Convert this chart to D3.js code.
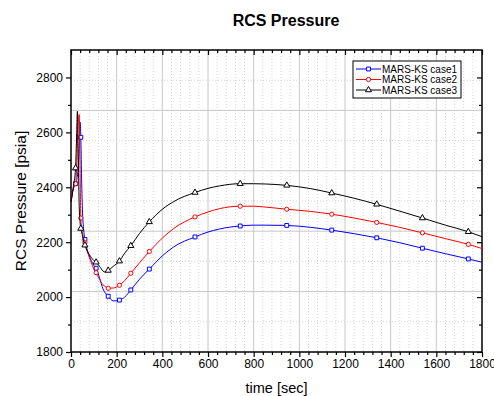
<!DOCTYPE html>
<html>
<head>
<meta charset="utf-8">
<script src="https://cdn.jsdelivr.net/npm/d3@7"></script>
<style>
  body { margin: 0; background: #fff; }
  svg { display: block; font-family: "Liberation Sans", Arial, sans-serif; }
</style>
</head>
<body>
<figure id="chart" style="margin:0"></figure>
<script>
// time [sec]
const time = [0, 10, 20, 25, 28, 32, 36, 40, 43, 46, 50, 55, 61, 70, 80, 90, 100, 110, 125, 140,
  150, 163, 185, 212, 235, 262, 300, 343, 400, 450, 543, 600, 650, 741, 800, 850, 945, 1050,
  1142, 1240, 1339, 1440, 1539, 1640, 1740, 1800];

// RCS pressure [psia]
const case1 = [2346, 2395, 2413, 2425, 2440, 2480, 2540, 2637, 2582, 2450, 2320, 2250, 2210, 2175,
  2150, 2130, 2115, 2105, 2070, 2030, 2015, 2003, 1986, 1989, 2000, 2026, 2065, 2102, 2150, 2183,
  2219, 2237, 2248, 2259, 2262, 2262, 2261, 2254, 2244, 2231, 2216, 2198, 2178, 2158, 2139, 2127];
const case2 = [2346, 2395, 2413, 2480, 2560, 2640, 2665, 2450, 2288, 2260, 2235, 2215, 2198, 2170,
  2145, 2122, 2102, 2089, 2065, 2045, 2038, 2032, 2033, 2043, 2060, 2087, 2125, 2166, 2215, 2250,
  2292, 2310, 2322, 2331, 2331, 2328, 2320, 2312, 2302, 2288, 2272, 2254, 2234, 2213, 2192, 2177];
const case3 = [2346, 2400, 2470, 2600, 2677, 2500, 2330, 2270, 2250, 2238, 2225, 2205, 2189, 2170,
  2155, 2143, 2133, 2127, 2112, 2095, 2091, 2097, 2112, 2131, 2160, 2187, 2232, 2274, 2320, 2348,
  2381, 2396, 2405, 2413, 2413, 2412, 2407, 2395, 2379, 2360, 2338, 2313, 2288, 2262, 2238, 2220];

// times that carry a symbol
const markerTimes = [20, 43, 61, 110, 163, 212, 262, 343, 543, 741, 945, 1142, 1339, 1539, 1740];

const seriesNames = ["MARS-KS case1", "MARS-KS case2", "MARS-KS case3"];
const xTicks = [0, 200, 400, 600, 800, 1000, 1200, 1400, 1600, 1800];
const yTicks = [1800, 2000, 2200, 2400, 2600, 2800];

const width = 494, height = 396;
const margin = { top: 50, right: 12, bottom: 44, left: 71 };
const w = width - margin.left - margin.right;
const h = height - margin.top - margin.bottom;

const svg = d3.select("#chart")
  .append("svg")
  .attr("width", width)
  .attr("height", height);

const g = svg.append("g")
  .attr("transform", "translate(" + margin.left + "," + margin.top + ")");

const x = d3.scaleLinear().domain([0, 1800]).range([0, w]);
const y = d3.scaleLinear().domain([1800, 2900]).range([h, 0]);

// Grid: vertical lines on the x ticks, horizontal lines every 110 psia
const gridV = d3.range(0, 1801, 40);
g.append("g").selectAll("line")
  .data(gridV.filter(d => d > 0 && d < 1800))
  .enter().append("line")
  .attr("x1", d => x(d)).attr("x2", d => x(d))
  .attr("y1", 0).attr("y2", h)
  .attr("stroke", d => d % 200 === 0 ? "#c8c8c8" : "#d4d4d4")
  .attr("stroke-width", 1)
  .attr("stroke-dasharray", d => d % 200 === 0 ? null : "1,2");

const gridH = d3.range(1910, 2900, 110);
g.append("g").selectAll("line")
  .data(gridH)
  .enter().append("line")
  .attr("x1", 0).attr("x2", w)
  .attr("y1", d => y(d)).attr("y2", d => y(d))
  .attr("stroke", (d, i) => i % 2 ? "#c8c8c8" : "#d4d4d4")
  .attr("stroke-width", 1)
  .attr("stroke-dasharray", (d, i) => i % 2 ? null : "1,2");

// Axes (left/bottom with labels, top/right mirrored)
const minorX = d3.range(0, 1801, 40).filter(d => d % 200 !== 0);
const minorY = d3.range(1900, 2900, 200);
const fmt = d3.format("d");

function styleAxis(sel) {
  sel.select(".domain").remove();
  sel.selectAll("line").attr("stroke", "#000").attr("stroke-width", 1.2);
  sel.selectAll("text").attr("font-size", 12).attr("fill", "#000")
    .attr("font-family", "Liberation Sans, Arial, sans-serif");
}

g.append("g").attr("transform", "translate(0," + h + ")")
  .call(d3.axisBottom(x).tickValues(xTicks).tickFormat(fmt).tickSize(5).tickPadding(2)).call(styleAxis);
g.append("g").attr("transform", "translate(0," + h + ")")
  .call(d3.axisBottom(x).tickValues(minorX).tickSize(3).tickFormat("")).call(styleAxis);
g.append("g").call(d3.axisTop(x).tickValues(xTicks).tickSize(-5).tickFormat("")).call(styleAxis);
g.append("g").call(d3.axisTop(x).tickValues(minorX).tickSize(-3).tickFormat("")).call(styleAxis);

g.append("g").call(d3.axisLeft(y).tickValues(yTicks).tickFormat(fmt).tickSize(5).tickPadding(3)).call(styleAxis);
g.append("g").call(d3.axisLeft(y).tickValues(minorY).tickSize(3).tickFormat("")).call(styleAxis);
g.append("g").attr("transform", "translate(" + w + ",0)")
  .call(d3.axisRight(y).tickValues(yTicks).tickSize(-5).tickFormat("")).call(styleAxis);
g.append("g").attr("transform", "translate(" + w + ",0)")
  .call(d3.axisRight(y).tickValues(minorY).tickSize(-3).tickFormat("")).call(styleAxis);

// Frame
g.append("rect")
  .attr("width", w).attr("height", h)
  .attr("fill", "none").attr("stroke", "#000").attr("stroke-width", 1.5);

// Lines and symbols
const series = [
  { name: seriesNames[0], values: case1, color: "#0000ff", symbol: d3.symbolSquare, size: 15 },
  { name: seriesNames[1], values: case2, color: "#ff0000", symbol: d3.symbolCircle, size: 14 },
  { name: seriesNames[2], values: case3, color: "#000000", symbol: d3.symbolTriangle, size: 16 },
];

const line = d3.line()
  .x(d => x(d[0]))
  .y(d => y(d[1]))
  .curve(d3.curveMonotoneX);

const plot = g.append("g");
series.forEach(s => {
  const pts = time.map((t, i) => [t, s.values[i]]);
  plot.append("path")
    .datum(pts)
    .attr("d", line)
    .attr("fill", "none")
    .attr("stroke", s.color)
    .attr("stroke-width", 1);
  plot.selectAll(null)
    .data(pts.filter(p => markerTimes.includes(p[0])))
    .enter().append("path")
    .attr("transform", p => "translate(" + x(p[0]) + "," + y(p[1]) + ")")
    .attr("d", d3.symbol().type(s.symbol).size(s.size))
    .attr("fill", "#fff")
    .attr("stroke", s.color)
    .attr("stroke-width", 1);
});

// Legend
const legend = g.append("g").attr("transform", "translate(282,11)");
legend.append("rect")
  .attr("width", 108).attr("height", 37)
  .attr("fill", "#fff").attr("stroke", "#000").attr("stroke-width", 1);
series.forEach((s, i) => {
  const row = legend.append("g").attr("transform", "translate(0," + (8 + i * 10.5) + ")");
  row.append("line").attr("x1", 3).attr("x2", 28)
    .attr("stroke", s.color).attr("stroke-width", 1);
  row.append("path").attr("transform", "translate(15.5,0)")
    .attr("d", d3.symbol().type(s.symbol).size(s.size))
    .attr("fill", "#fff").attr("stroke", s.color).attr("stroke-width", 1);
  row.append("text").attr("x", 29).attr("dy", "0.35em")
    .attr("font-size", 10).text(s.name);
});

// Titles
svg.append("text")
  .attr("x", 286).attr("y", 26)
  .attr("text-anchor", "middle")
  .attr("font-size", 16).attr("font-weight", "bold")
  .text("RCS Pressure");

svg.append("text")
  .attr("x", margin.left + w / 2).attr("y", 393)
  .attr("text-anchor", "middle")
  .attr("font-size", 14.5)
  .text("time [sec]");

svg.append("text")
  .attr("transform", "translate(26," + (margin.top + h / 2) + ") rotate(-90)")
  .attr("text-anchor", "middle")
  .attr("font-size", 15.5)
  .text("RCS Pressure [psia]");
</script>
</body>
</html>
